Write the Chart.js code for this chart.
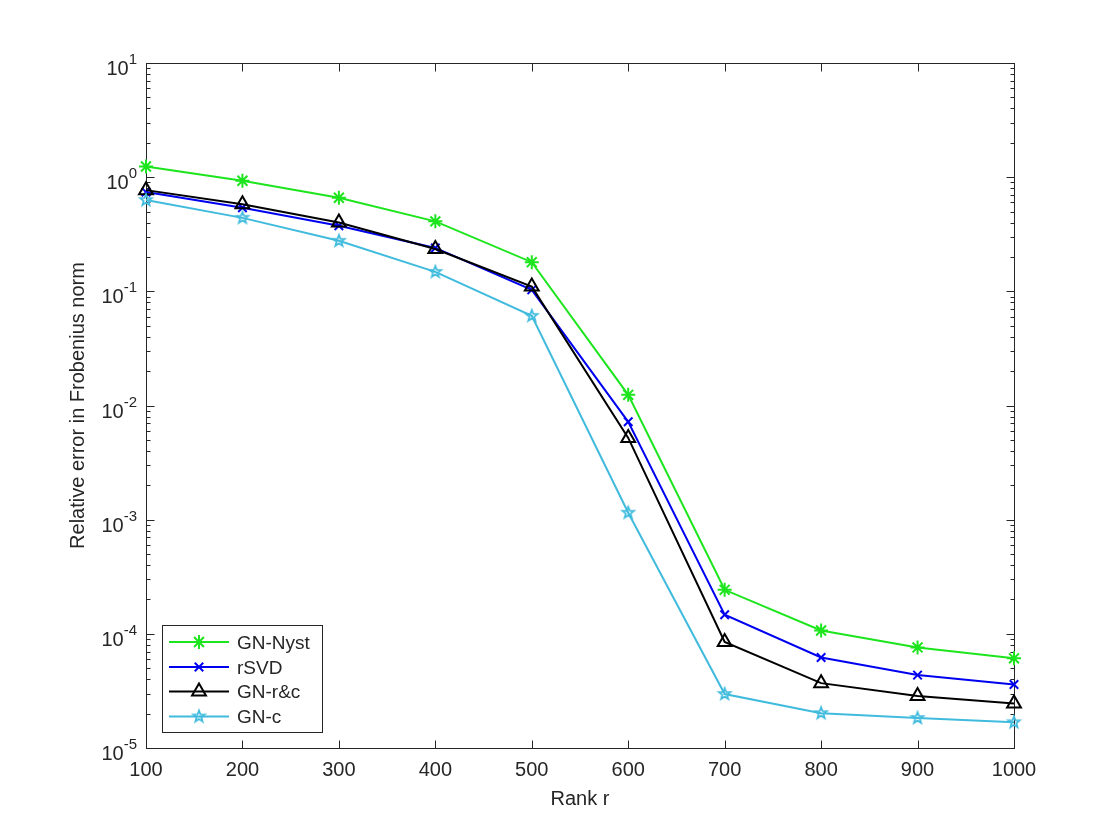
<!DOCTYPE html>
<html><head><meta charset="utf-8">
<script src="https://cdn.jsdelivr.net/npm/chart.js@4.4.1/dist/chart.umd.min.js"></script>
<style>html,body{margin:0;padding:0;background:#fff;}canvas{display:block;}</style>
</head><body>
<canvas id="c" width="1120" height="840"></canvas>
<script>
// ---- data ----
const ranks = [100, 200, 300, 400, 500, 600, 700, 800, 900, 1000];
const gnNyst = [1.24, 0.93, 0.66, 0.41, 0.18, 0.0124, 2.43e-4, 1.07e-4, 7.6e-5, 6.1e-5];
const rsvd   = [0.74, 0.54, 0.375, 0.24, 0.103, 0.0072, 1.47e-4, 6.2e-5, 4.35e-5, 3.6e-5];
const gnRC   = [0.77, 0.58, 0.40, 0.235, 0.11, 0.0052, 8.5e-5, 3.7e-5, 2.85e-5, 2.45e-5];
const gnC    = [0.63, 0.44, 0.277, 0.148, 0.061, 0.00115, 2.97e-5, 2.02e-5, 1.83e-5, 1.68e-5];
const seriesNames = ['GN-Nyst', 'rSVD', 'GN-r&c', 'GN-c'];
const xTickValues = [100, 200, 300, 400, 500, 600, 700, 800, 900, 1000];
const yTickExponents = [1, 0, -1, -2, -3, -4, -5];
const xTitle = 'Rank r';
const yTitle = 'Relative error in Frobenius norm';

// ---- styles ----
const FONT = '"Liberation Sans", Arial, Helvetica, sans-serif';
const AX = '#262626';
const colors = ['#1de51d', '#0000f0', '#000000', '#40bbdd'];

function makePentagram(color, r, lw) {
  const s = Math.ceil(2 * r + lw * 2 + 2);
  const cv = document.createElement('canvas');
  cv.width = s; cv.height = s;
  const g = cv.getContext('2d');
  g.strokeStyle = color; g.lineWidth = lw; g.lineJoin = 'miter';
  g.beginPath();
  for (let i = 0; i < 10; i++) {
    const rr = i % 2 === 0 ? r : r * 0.42;
    const a = -Math.PI / 2 + i * Math.PI / 5;
    const px = s / 2 + rr * Math.cos(a), py = s / 2 + rr * Math.sin(a);
    if (i === 0) g.moveTo(px, py); else g.lineTo(px, py);
  }
  g.closePath(); g.stroke();
  return cv;
}
const penta = makePentagram(colors[3], 6, 1.8);

const markers = [
  {pointStyle: 'star', radius: 7, bw: 2},
  {pointStyle: 'crossRot', radius: 6, bw: 2},
  {pointStyle: 'triangle', radius: 8, bw: 2},
  {pointStyle: penta, radius: 7, bw: 1.5}
];
const seriesData = [gnNyst, rsvd, gnRC, gnC];

const datasets = seriesData.map((arr, i) => ({
  label: seriesNames[i],
  data: ranks.map((x, j) => ({x: x, y: arr[j]})),
  borderColor: colors[i],
  backgroundColor: i === 2 ? 'rgba(0,0,0,0)' : colors[i],
  borderWidth: 2,
  pointStyle: markers[i].pointStyle,
  pointRadius: markers[i].radius,
  pointBorderWidth: markers[i].bw,
  pointBorderColor: colors[i],
  pointBackgroundColor: i === 2 ? 'rgba(0,0,0,0)' : colors[i],
  tension: 0,
  clip: false,
  order: 4 - i
}));

const axesPlugin = {
  id: 'axesBox',
  beforeDatasetsDraw(chart) {
    const {ctx, chartArea: a, scales} = chart;
    const xs = scales.x, ys = scales.y;
    const L = Math.round(a.left) + 0.5, R = Math.round(a.right) + 0.5;
    const T = Math.round(a.top) + 0.5, B = Math.round(a.bottom) + 0.5;
    ctx.save();
    ctx.strokeStyle = AX; ctx.lineWidth = 1;
    ctx.strokeRect(L, T, R - L, B - T);
    ctx.beginPath();
    xTickValues.forEach(v => {
      const px = Math.round(xs.getPixelForValue(v)) + 0.5;
      ctx.moveTo(px, B); ctx.lineTo(px, B - 8);
      ctx.moveTo(px, T); ctx.lineTo(px, T + 8);
    });
    for (let e = -5; e <= 1; e++) {
      const py = Math.round(ys.getPixelForValue(Math.pow(10, e))) + 0.5;
      ctx.moveTo(L, py); ctx.lineTo(L + 8, py);
      ctx.moveTo(R, py); ctx.lineTo(R - 8, py);
      if (e < 1) {
        for (let m = 2; m <= 9; m++) {
          const qy = Math.round(ys.getPixelForValue(m * Math.pow(10, e))) + 0.5;
          ctx.moveTo(L, qy); ctx.lineTo(L + 4, qy);
          ctx.moveTo(R, qy); ctx.lineTo(R - 4, qy);
        }
      }
    }
    ctx.stroke();
    ctx.fillStyle = AX;
    ctx.textBaseline = 'alphabetic';
    ctx.textAlign = 'left';
    yTickExponents.forEach(e => {
      const py = ys.getPixelForValue(Math.pow(10, e));
      const expStr = e < 0 ? '-' + Math.abs(e) : String(e);
      ctx.font = '15px ' + FONT;
      const ew = ctx.measureText(expStr).width;
      ctx.font = '20px ' + FONT;
      const bw = ctx.measureText('10').width;
      const rightX = a.left - 9;
      ctx.fillText('10', rightX - ew - bw, py + 12);
      ctx.font = '15px ' + FONT;
      ctx.fillText(expStr, rightX - ew, py + 1);
    });
    ctx.restore();
  },
  afterDraw(chart) {
    const {ctx} = chart;
    ctx.save();
    const bx = 162.5, by = 625.5, bw = 160, bh = 107;
    ctx.fillStyle = '#fff';
    ctx.fillRect(bx, by, bw, bh);
    ctx.strokeStyle = AX; ctx.lineWidth = 1;
    ctx.strokeRect(bx, by, bw, bh);
    const rows = [642, 667, 691.5, 716.5];
    seriesNames.forEach((name, i) => {
      const y = rows[i];
      ctx.strokeStyle = colors[i]; ctx.lineWidth = 2;
      ctx.beginPath(); ctx.moveTo(169, y); ctx.lineTo(229, y); ctx.stroke();
      const m = markers[i];
      ctx.strokeStyle = colors[i];
      ctx.fillStyle = i === 2 ? 'rgba(0,0,0,0)' : colors[i];
      ctx.lineWidth = m.bw;
      Chart.helpers.drawPoint(ctx, {
        pointStyle: m.pointStyle, radius: m.radius, borderWidth: m.bw, rotation: 0
      }, 199, y);
      ctx.fillStyle = AX;
      ctx.font = '19px ' + FONT;
      ctx.textAlign = 'left'; ctx.textBaseline = 'alphabetic';
      ctx.fillText(name, 237, y + 6.8);
    });
    ctx.restore();
  }
};

new Chart(document.getElementById('c'), {
  type: 'line',
  data: {datasets},
  options: {
    responsive: false,
    animation: false,
    layout: {padding: {top: 63, right: 106, left: 0, bottom: 0}},
    plugins: {legend: {display: false}, tooltip: {enabled: false}},
    scales: {
      x: {
        type: 'linear', min: 100, max: 1000,
        afterBuildTicks(s) { s.ticks = xTickValues.map(v => ({value: v})); },
        afterFit(s) { s.height = 92; },
        grid: {display: false, drawTicks: false},
        border: {display: false},
        ticks: {color: AX, font: {family: FONT, size: 20}, padding: 10, maxRotation: 0, autoSkip: false,
                callback: v => String(v)},
        title: {display: true, text: xTitle, color: AX, font: {family: FONT, size: 20}, padding: {top: 0, bottom: 29}}
      },
      y: {
        type: 'logarithmic', min: 1e-5, max: 10,
        afterFit(s) { s.width = 146; },
        grid: {display: false, drawTicks: false},
        border: {display: false},
        ticks: {display: false},
        title: {display: true, text: yTitle, color: AX, font: {family: FONT, size: 20}, padding: {top: 66, bottom: 0}}
      }
    }
  },
  plugins: [axesPlugin]
});
</script>
</body></html>
